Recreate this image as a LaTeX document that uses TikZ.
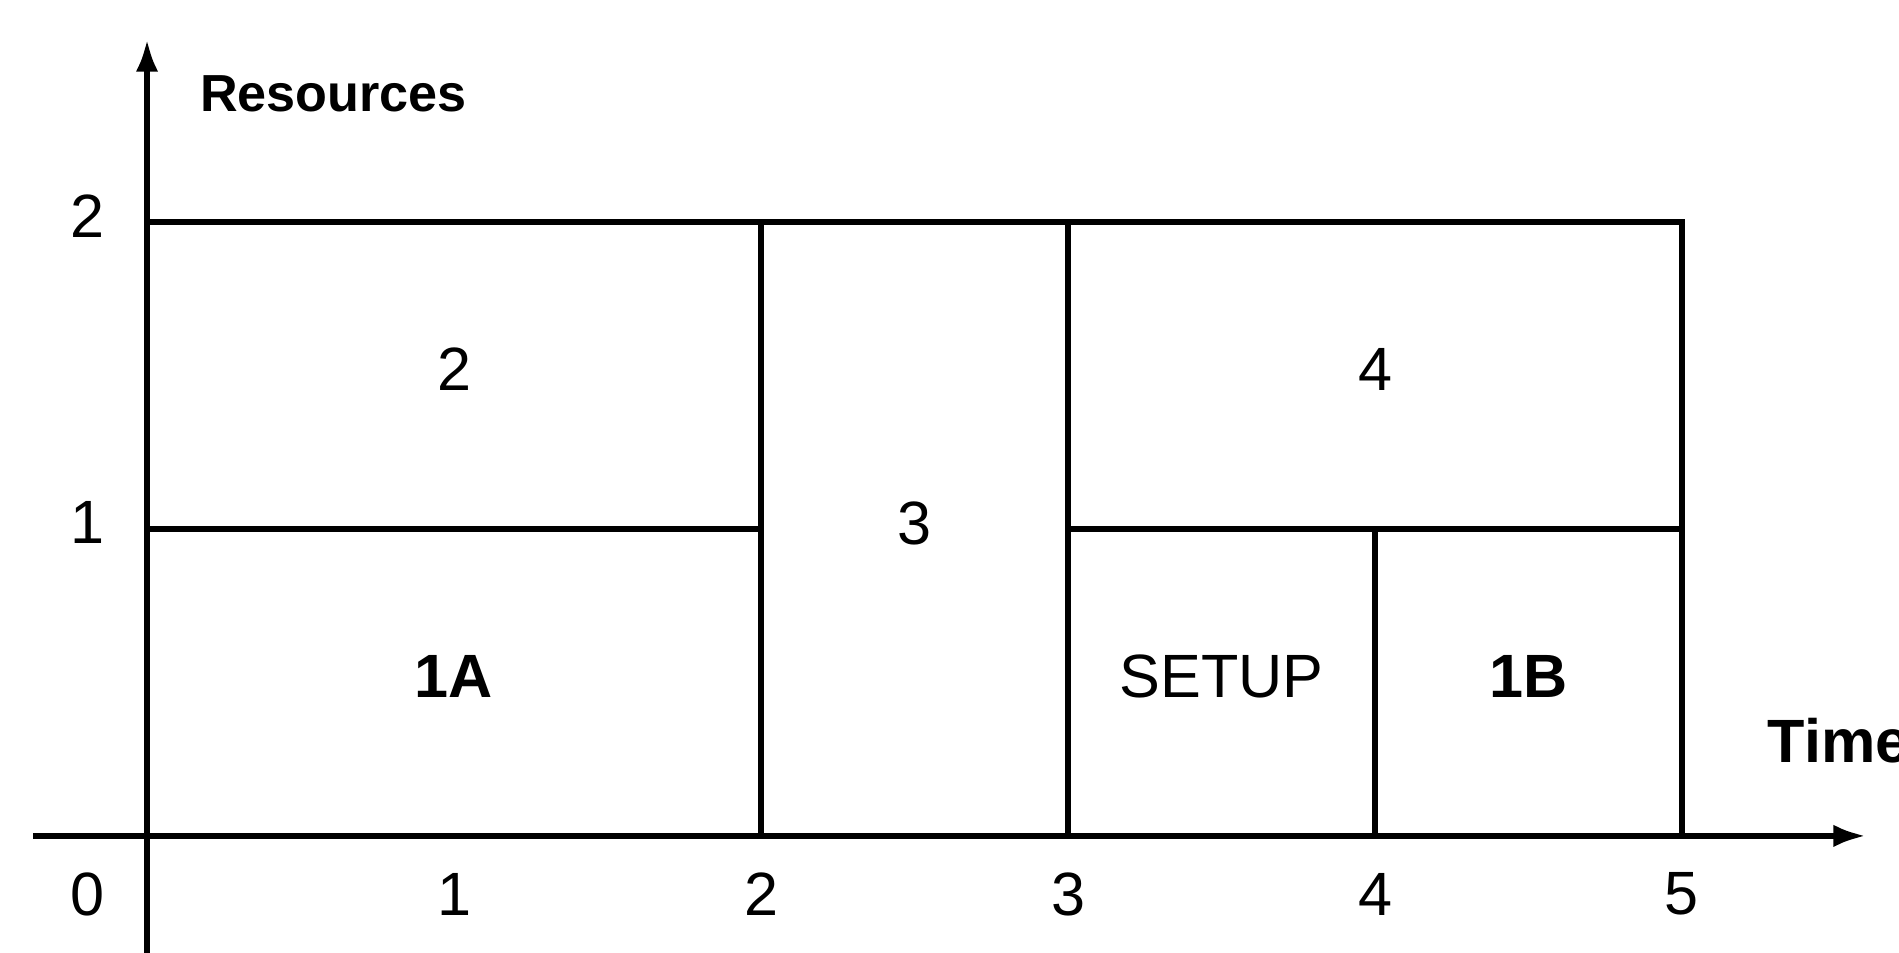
\documentclass[tikz,border=0pt]{standalone}
\usepackage{fontspec}
\setmainfont{Liberation Sans}
\usetikzlibrary{arrows.meta,positioning}

\begin{document}
\begin{tikzpicture}[
    x=3cm, y=3cm,
    font=\fontsize{17}{20}\selectfont,
    line width=1.7pt,
    block/.style={draw, inner sep=0pt, text depth=1.2mm, minimum width=#1},
    block/.default=6cm,
    axis/.style={-{Latex[length=3.2mm,width=2.2mm]}},
    tick/.style={inner sep=0pt},
  ]
    \useasboundingbox (-0.479,-0.381) rectangle (5.707,2.723);
    % axes
    \draw[axis] (-0.371,0) -- (5.60,0);
    \draw[axis] (0,-0.5) -- (0,2.596);
    \node[tick, anchor=west, font=\fontsize{14.5}{17}\selectfont\bfseries] (res) at (0.163,2.417) {Resources};
    \node[tick, anchor=west, font=\fontsize{17}{20}\selectfont\bfseries] (time) at (5.27,0.31) {Time};
    % tasks
    \node[block, minimum height=3cm] (t1a) at (1,0.5) {\textbf{1A}};
    \node[block, minimum height=3cm] (t2) at (1,1.5) {2};
    \node[block=3cm, minimum height=6cm] (t3) at (2.5,1) {3};
    \node[block, minimum height=3cm] (t4) at (4,1.5) {4};
    \node[block=3cm, minimum height=3cm] (setup) at (3.5,0.5) {SETUP};
    \node[block=3cm, minimum height=3cm] (t1b) at (4.5,0.5) {\textbf{1B}};
    % tick labels
    \node[tick] (x0) at (-0.195,-0.19) {0};
    \foreach \i in {1,...,5}
      \node[tick] (x\i) at (\i,-0.19) {\i};
    \foreach \j in {1,2}
      \node[tick] (y\j) at (-0.195,\j+0.02) {\j};
\end{tikzpicture}
\end{document}
